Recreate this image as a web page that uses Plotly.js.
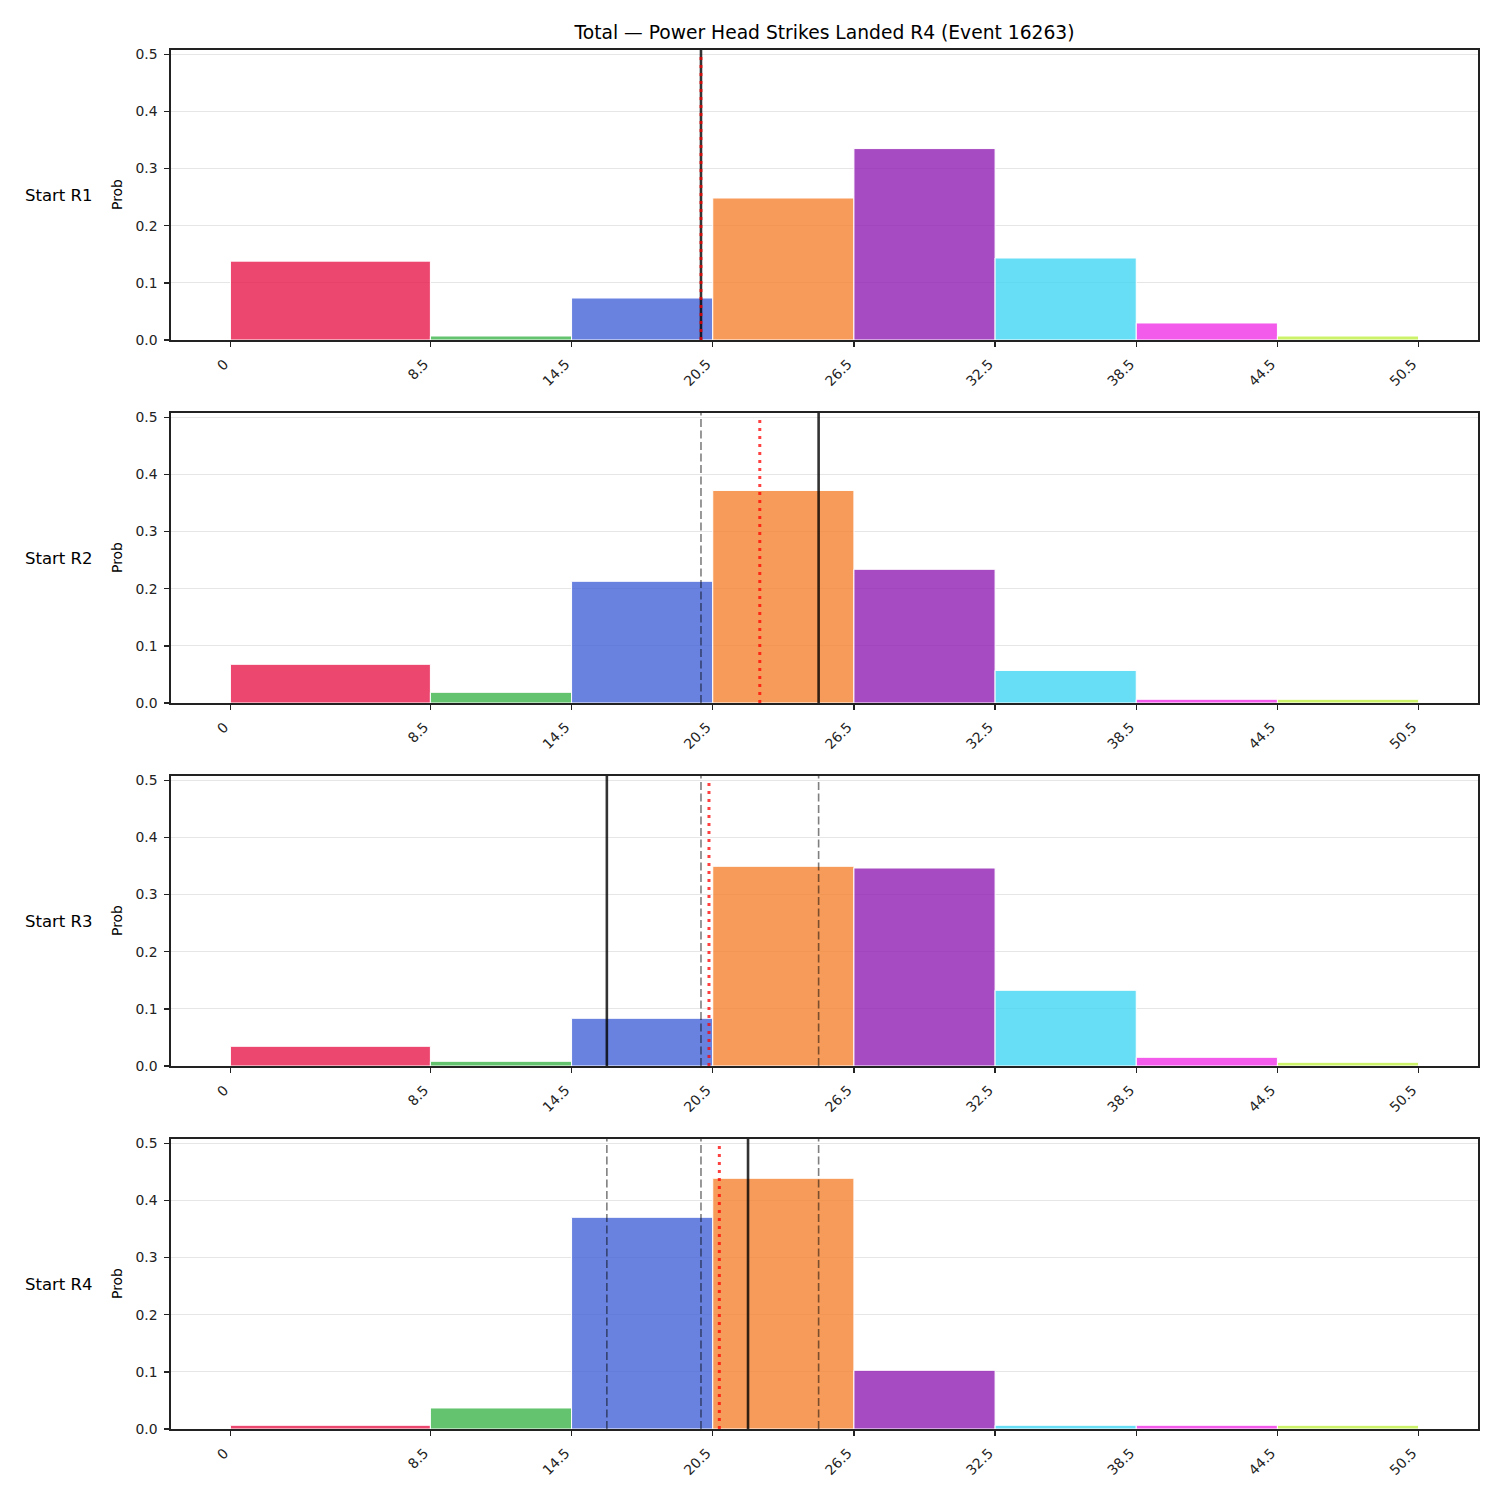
<!DOCTYPE html>
<html>
<head>
<meta charset="utf-8">
<script src="https://cdn.plot.ly/plotly-3.0.1.min.js"></script>
<style>
  html, body { margin: 0; padding: 0; background: #ffffff; }
  #chart { width: 1500px; height: 1500px; }
</style>
</head>
<body>
<div id="chart"></div>
<script>
// Bin edges of the strike-count buckets and their tick labels
const binEdges = [0, 8.5, 14.5, 20.5, 26.5, 32.5, 38.5, 44.5, 50.5];
const tickLabels = ['0', '8.5', '14.5', '20.5', '26.5', '32.5', '38.5', '44.5', '50.5'];

// One colour per bucket
const binColors = ['#e6194b', '#3cb44b', '#4363d8', '#f58231', '#911eb4', '#42d4f4', '#f032e6', '#bfef45'];

// Row names
const roundLabels = ['Start R1', 'Start R2', 'Start R3', 'Start R4'];

// Probability of each bucket, per starting round
const probR1 = [0.138, 0.007, 0.0735, 0.2485, 0.335, 0.1435, 0.0298, 0.007];
const probR2 = [0.0677, 0.0187, 0.213, 0.372, 0.234, 0.057, 0.0065, 0.0065];
const probR3 = [0.0345, 0.0082, 0.0835, 0.3495, 0.3465, 0.1325, 0.0152, 0.0065];
const probR4 = [0.0065, 0.0368, 0.3705, 0.4388, 0.1027, 0.0065, 0.0065, 0.0065];

// Market line in force at each round start, and the model's expected total
const lineByRound = [20, 25, 16, 22];
const meanByRound = [20.0, 22.5, 20.34, 20.78];

const title = 'Total \u2014 Power Head Strikes Landed R4 (Event 16263)';

const probsByRound = [probR1, probR2, probR3, probR4];

const W = 1500, H = 1500;
const plotLeft = 171, plotRight = 1478;
const panelTops = [50, 413, 776, 1139];
const panelHeight = 290;
const yTop = 0.5075;
const meanTop = 0.5;

function rgba(hex, a) {
  const n = parseInt(hex.slice(1), 16);
  return `rgba(${(n >> 16) & 255},${(n >> 8) & 255},${n & 255},${a})`;
}

const centers = binEdges.slice(0, -1).map((e, i) => (e + binEdges[i + 1]) / 2);
const widths = binEdges.slice(0, -1).map((e, i) => binEdges[i + 1] - e);

const FONT = 'DejaVu Sans, sans-serif';
const INK = '#222222';

const traces = [];
const shapes = [];
const annotations = [];
const layout = {
  width: W, height: H,
  margin: { l: 0, r: 0, t: 0, b: 0 },
  paper_bgcolor: '#ffffff',
  plot_bgcolor: '#ffffff',
  showlegend: false,
  font: { family: FONT, color: INK, size: 14 },
  title: {
    text: title,
    font: { family: FONT, size: 18.7, color: '#000000' },
    xref: 'paper', yref: 'paper',
    x: ((plotLeft + plotRight) / 2) / W, xanchor: 'center',
    y: 1 - 32 / H, yanchor: 'middle'
  }
};

probsByRound.forEach((probs, i) => {
  const sfx = i === 0 ? '' : String(i + 1);
  const xa = 'x' + sfx, ya = 'y' + sfx;

  traces.push({
    type: 'bar',
    x: centers,
    y: probs,
    width: widths,
    xaxis: xa, yaxis: ya,
    marker: {
      color: binColors.map(c => rgba(c, 0.8)),
      line: { color: '#ffffff', width: 1 }
    },
    hoverinfo: 'x+y'
  });

  const top = panelTops[i], bottom = top + panelHeight;
  layout['xaxis' + sfx] = {
    domain: [plotLeft / W, plotRight / W],
    anchor: ya,
    range: [-2.525, 53.025],
    tickmode: 'array',
    tickvals: binEdges,
    ticktext: tickLabels,
    tickangle: -45,
    ticklabelshift: -6,
    ticklabelstandoff: 4,
    ticks: 'outside', ticklen: 5, tickwidth: 1.5, tickcolor: INK,
    tickfont: { family: FONT, size: 13.9, color: INK },
    showline: true, linecolor: INK, linewidth: 1.6, mirror: true,
    showgrid: false, zeroline: false
  };
  layout['yaxis' + sfx] = {
    domain: [1 - bottom / H, 1 - top / H],
    anchor: xa,
    range: [0, yTop],
    tickmode: 'array',
    tickvals: [0, 0.1, 0.2, 0.3, 0.4, 0.5],
    ticktext: ['0.0', '0.1', '0.2', '0.3', '0.4', '0.5'],
    ticklabelstandoff: 4,
    ticks: 'outside', ticklen: 5, tickwidth: 1.5, tickcolor: INK,
    tickfont: { family: FONT, size: 13.9, color: INK },
    showline: true, linecolor: INK, linewidth: 1.6, mirror: true,
    showgrid: true, gridcolor: '#e6e6e6', gridwidth: 1,
    zeroline: false
  };

  // earlier rounds' lines: dashed grey
  for (let j = 0; j < i; j++) {
    shapes.push({
      type: 'line', xref: xa, yref: ya + ' domain',
      x0: lineByRound[j], x1: lineByRound[j], y0: 0, y1: 1,
      line: { color: 'rgba(0,0,0,0.5)', width: 1.6, dash: '8px,3.5px' }
    });
  }
  // current line: solid black
  shapes.push({
    type: 'line', xref: xa, yref: ya + ' domain',
    x0: lineByRound[i], x1: lineByRound[i], y0: 0, y1: 1,
    line: { color: 'rgba(0,0,0,0.8)', width: 2.6 }
  });
  // expected total: red dotted
  shapes.push({
    type: 'line', xref: xa, yref: ya,
    x0: meanByRound[i], x1: meanByRound[i], y0: 0, y1: meanTop,
    line: { color: 'rgba(255,0,0,0.75)', width: 3, dash: '3px,5px' }
  });

  const midY = 1 - (top + panelHeight / 2) / H;
  annotations.push({
    text: roundLabels[i], xref: 'paper', yref: 'paper',
    x: 23 / W, y: midY, xanchor: 'left', yanchor: 'middle',
    showarrow: false, font: { family: FONT, size: 16.5, color: '#000000' }
  });
  annotations.push({
    text: 'Prob', xref: 'paper', yref: 'paper', textangle: -90,
    x: 117 / W, y: midY, xanchor: 'center', yanchor: 'middle',
    showarrow: false, font: { family: FONT, size: 13.9, color: '#000000' }
  });
});

layout.shapes = shapes;
layout.annotations = annotations;

Plotly.newPlot('chart', traces, layout, { displayModeBar: false, staticPlot: true });
</script>
</body>
</html>
